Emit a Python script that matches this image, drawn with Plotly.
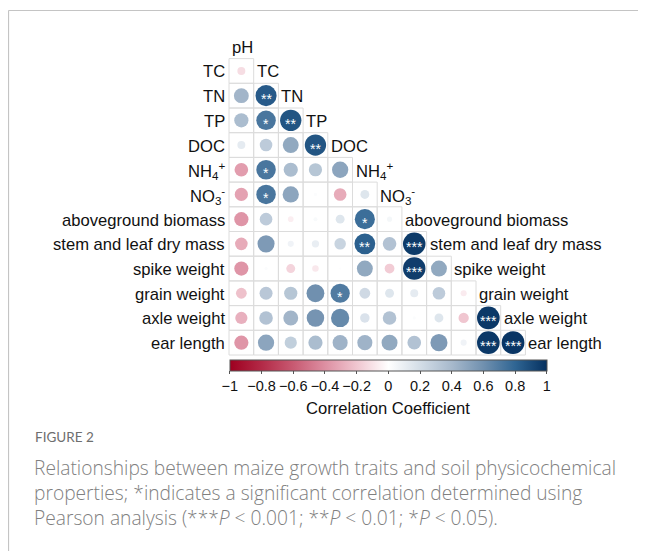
import numpy as np
import plotly.graph_objects as go

# ---------------- data ----------------
var_labels = ["pH", "TC", "TN", "TP", "DOC",
              "NH<sub>4</sub><sup>+</sup>", "NO<sub>3</sub><sup>-</sup>",
              "aboveground biomass", "stem and leaf dry mass", "spike weight",
              "grain weight", "axle weight", "ear length"]

# lower-triangular correlation coefficients: row i (1..12) vs columns 0..i-1
r_TC = [-0.12]
r_TN = [0.42, 0.84]
r_TP = [0.38, 0.72, 0.86]
r_DOC = [0.12, 0.30, 0.48, 0.86]
r_NH4 = [-0.35, 0.72, 0.38, 0.33, 0.50]
r_NO3 = [-0.33, 0.72, 0.50, 0.02, -0.30, 0.15]
r_AGB = [-0.38, 0.30, -0.06, 0.03, 0.15, 0.76, 0.05]
r_SLDM = [-0.30, 0.55, 0.07, 0.10, 0.25, 0.82, 0.35, 0.96]
r_spike = [-0.38, 0.02, -0.15, -0.08, 0.01, 0.48, -0.18, 0.95, 0.48]
r_grain = [-0.22, 0.32, 0.33, 0.60, 0.70, 0.22, 0.15, 0.12, 0.30, -0.07]
r_axle = [-0.28, 0.35, 0.42, 0.58, 0.63, 0.17, 0.35, 0.02, 0.15, -0.20, 0.97]
r_ear = [-0.38, 0.50, 0.28, 0.38, 0.43, 0.43, 0.48, 0.35, 0.55, 0.07, 0.97, 0.98]

sig_TC = [""]
sig_TN = ["", "**"]
sig_TP = ["", "*", "**"]
sig_DOC = ["", "", "", "**"]
sig_NH4 = ["", "*", "", "", ""]
sig_NO3 = ["", "*", "", "", "", ""]
sig_AGB = ["", "", "", "", "", "*", ""]
sig_SLDM = ["", "", "", "", "", "**", "", "***"]
sig_spike = ["", "", "", "", "", "", "", "***", ""]
sig_grain = ["", "", "", "", "*", "", "", "", "", ""]
sig_axle = ["", "", "", "", "", "", "", "", "", "", "***"]
sig_ear = ["", "", "", "", "", "", "", "", "", "", "***", "***"]

colorbar_ticks = [-1, -0.8, -0.6, -0.4, -0.2, 0, 0.2, 0.4, 0.6, 0.8, 1]

r_rows = [r_TC, r_TN, r_TP, r_DOC, r_NH4, r_NO3, r_AGB, r_SLDM, r_spike, r_grain, r_axle, r_ear]
sig_rows = [sig_TC, sig_TN, sig_TP, sig_DOC, sig_NH4, sig_NO3, sig_AGB, sig_SLDM, sig_spike,
            sig_grain, sig_axle, sig_ear]

# ---------------- geometry ----------------
OFF = 8                      # page body margin
W, H = 646 - OFF, 551 - OFF
CELL = 24.7
GX0, GY0 = 229.0 - OFF, 58.6 - OFF   # left edge of column 0 / top edge of row 1
xr0 = -0.5 - GX0 / CELL
xr1 = xr0 + W / CELL
yr_top = 0.5 - GY0 / CELL
yr_bot = yr_top + H / CELL


def px(x):
    return (x - OFF) / W


def py(y):
    return 1 - (y - OFF) / H


xs, ys, rs, sig = [], [], [], []
for i, (row, srow) in enumerate(zip(r_rows, sig_rows), start=1):
    for j, (v, s) in enumerate(zip(row, srow)):
        xs.append(j); ys.append(i); rs.append(v); sig.append(s)
rs = np.array(rs)
sizes = 23.0 * np.sqrt(np.abs(rs))

colorscale = [
    [0.0, "#9e0020"], [0.1, "#b32a47"], [0.2, "#c85a72"], [0.3, "#dd8fa2"],
    [0.4, "#f0c6d0"], [0.5, "#ffffff"], [0.6, "#d3dde7"], [0.7, "#a7b9cc"],
    [0.8, "#7090af"], [0.9, "#2f6593"], [1.0, "#05305f"],
]

FONT = "Liberation Sans, Arial, sans-serif"

fig = go.Figure()

# cell borders
shapes = []
for i, row in enumerate(r_rows, start=1):
    for j in range(len(row)):
        shapes.append(dict(type="rect", xref="x", yref="y",
                           x0=j - 0.5, x1=j + 0.5, y0=i - 0.5, y1=i + 0.5,
                           line=dict(color="#dcdcdc", width=1), layer="below"))

fig.add_trace(go.Scatter(
    x=xs, y=ys, mode="markers",
    marker=dict(size=sizes, color=rs, cmin=-1, cmax=1, colorscale=colorscale,
                line=dict(width=0), opacity=1,
                colorbar=dict(orientation="h", x=(px(230) + px(546.7)) / 2, xanchor="center",
                              y=py(360), yanchor="top", len=316.7 / W, lenmode="fraction",
                              thickness=11, xpad=0, ypad=0,
                              outlinecolor="#555555", outlinewidth=1,
                              tickvals=colorbar_ticks, ticks="outside", ticklen=3,
                              tickcolor="#555555",
                              tickfont=dict(family=FONT, size=14.5, color="#111111"))),
    hoverinfo="skip", showlegend=False))

annotations = []
# significance stars
for x, y, s in zip(xs, ys, sig):
    if s:
        annotations.append(dict(x=x, y=y, xref="x", yref="y", text=s, showarrow=False,
                                yshift=-3.5, font=dict(family=FONT, size=14, color="white")))
# left row labels
for i in range(1, len(var_labels)):
    annotations.append(dict(x=-0.5, y=i, xref="x", yref="y", text=var_labels[i],
                            showarrow=False, xanchor="right", xshift=-2, yshift=-1,
                            font=dict(family=FONT, size=16.6, color="#111111")))
# diagonal labels
for k in range(len(var_labels)):
    annotations.append(dict(x=k - 0.5, y=k, xref="x", yref="y", text=var_labels[k],
                            showarrow=False, xanchor="left", xshift=1, yshift=-1,
                            font=dict(family=FONT, size=16.6, color="#111111")))

# colorbar title
annotations.append(dict(x=(px(230) + px(546.7)) / 2, y=py(408), xref="paper", yref="paper",
                        text="Correlation Coefficient", showarrow=False,
                        xanchor="center", yanchor="middle",
                        font=dict(family=FONT, size=16.6, color="#111111")))

# caption
CAP = "Open Sans, Lato, sans-serif"
annotations.append(dict(x=px(33), y=py(437), xref="paper", yref="paper", text="FIGURE 2",
                        showarrow=False, xanchor="left", yanchor="middle",
                        font=dict(family="Lato, sans-serif", size=13.5, color="#6e6e6e")))
cap_lines = ["Relationships between maize growth traits and soil physicochemical",
             "properties; *indicates a significant correlation determined using",
             "Pearson analysis (***<i>P</i> &lt; 0.001; **<i>P</i> &lt; 0.01; *<i>P</i> &lt; 0.05)."]
for n, line in enumerate(cap_lines):
    annotations.append(dict(x=px(32), y=py(468 + 24.5 * n), xref="paper", yref="paper",
                            text=line, showarrow=False, xanchor="left", yanchor="middle",
                            font=dict(family=CAP, size=19.2, color="#808080", weight=300)))

# frame lines
shapes.append(dict(type="line", xref="paper", yref="paper", x0=px(8.5), x1=1, y0=py(10.5),
                   y1=py(10.5), line=dict(color="#c4c4c4", width=1.2)))
shapes.append(dict(type="line", xref="paper", yref="paper", x0=px(8.5), x1=px(8.5), y0=py(10.5),
                   y1=0, line=dict(color="#c4c4c4", width=1.2)))

fig.update_layout(
    width=W, height=H, margin=dict(l=0, r=0, t=0, b=0),
    paper_bgcolor="white", plot_bgcolor="white",
    xaxis=dict(range=[xr0, xr1], visible=False, fixedrange=True),
    yaxis=dict(range=[yr_bot, yr_top], visible=False, fixedrange=True),
    shapes=shapes, annotations=annotations, showlegend=False,
)

fig.write_html("out.html")
